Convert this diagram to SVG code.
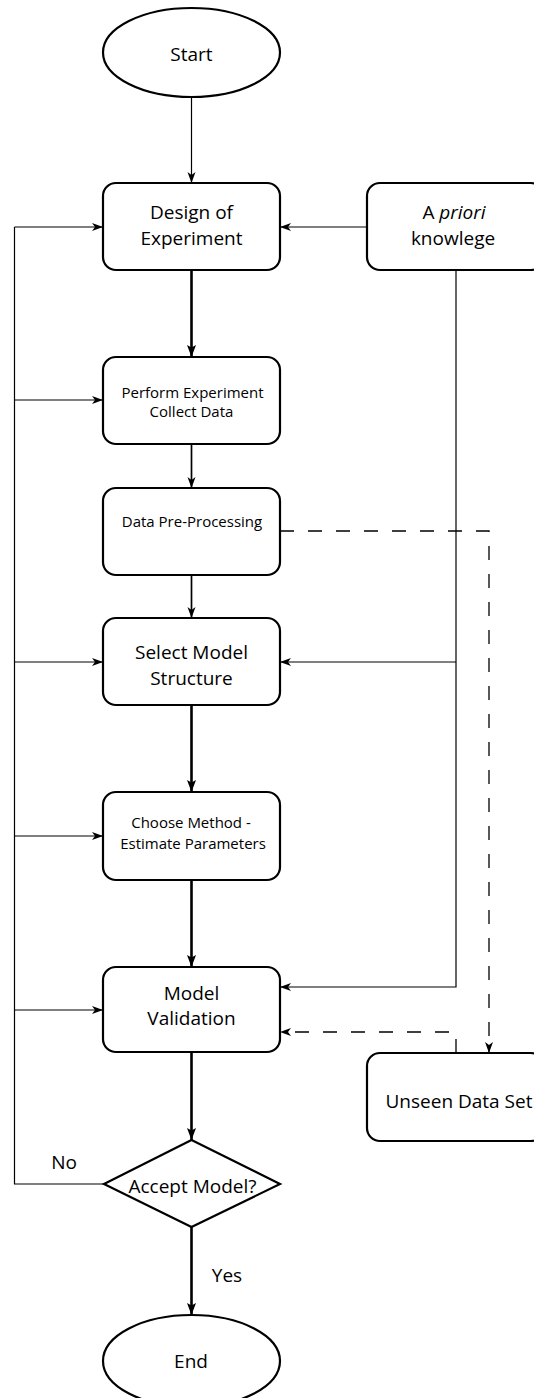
<svg xmlns="http://www.w3.org/2000/svg" width="534" height="1398" viewBox="0 0 534 1398">
<style>
  .shape { fill: #fff; stroke: #000; stroke-width: 2.2; }
  .big { font-family: "Open Sans", "Noto Sans", sans-serif; font-size: 19px; fill: #000; text-anchor: middle; }
  .small { font-family: "Open Sans", "Noto Sans", sans-serif; font-size: 15px; fill: #000; text-anchor: middle; }
  .thin { fill: none; stroke: #000; stroke-width: 1.2; }
  .mid { fill: none; stroke: #000; stroke-width: 1.7; }
  .bold { fill: none; stroke: #000; stroke-width: 2.6; }
  .dash { fill: none; stroke: #000; stroke-width: 1.3; stroke-dasharray: 14 14; }
</style>
<defs>
  <marker id="ah" markerUnits="userSpaceOnUse" markerWidth="12" markerHeight="10" refX="11" refY="5" orient="auto">
    <path d="M0,1 L11,5 L0,9 L3,5 Z" fill="#000"/>
  </marker>
  <marker id="ahb" markerUnits="userSpaceOnUse" markerWidth="13" markerHeight="10" refX="12" refY="5" orient="auto">
    <path d="M0,0.5 L12,5 L0,9.5 L2.5,5 Z" fill="#000"/>
  </marker>
</defs>
<rect width="534" height="1398" fill="#fff"/>

<g id="connectors">
  <!-- main flow -->
  <path class="thin" d="M191.5,97 L191.5,183" marker-end="url(#ah)"/>
  <path class="bold" d="M191.5,270 L191.5,357" marker-end="url(#ahb)"/>
  <path class="mid" d="M191.5,444 L191.5,488" marker-end="url(#ah)"/>
  <path class="mid" d="M191.5,575 L191.5,618" marker-end="url(#ah)"/>
  <path class="bold" d="M191.5,705 L191.5,792" marker-end="url(#ahb)"/>
  <path class="bold" d="M191.5,880 L191.5,967" marker-end="url(#ahb)"/>
  <path class="bold" d="M191.5,1052 L191.5,1140" marker-end="url(#ahb)"/>
  <path class="bold" d="M191.5,1227 L191.5,1315" marker-end="url(#ahb)"/>
  <!-- feedback loop (No) -->
  <path class="thin" d="M104,1184 L14.5,1184 L14.5,227"/>
  <path class="thin" d="M14.5,227 L103,227" marker-end="url(#ah)"/>
  <path class="thin" d="M14.5,400 L103,400" marker-end="url(#ah)"/>
  <path class="thin" d="M14.5,662 L103,662" marker-end="url(#ah)"/>
  <path class="thin" d="M14.5,836 L103,836" marker-end="url(#ah)"/>
  <path class="thin" d="M14.5,1010 L103,1010" marker-end="url(#ah)"/>
  <!-- a priori knowledge -->
  <path class="thin" d="M367,227 L280,227" marker-end="url(#ah)"/>
  <path class="thin" d="M456,270 L456,987 L280,987" marker-end="url(#ah)"/>
  <path class="thin" d="M456,662 L280,662" marker-end="url(#ah)"/>
  <!-- dashed data paths -->
  <path class="dash" d="M280,531 L489,531 L489,1053" marker-end="url(#ah)"/>
  <path class="dash" stroke-dasharray="14 15" d="M456,1053 L456,1032 L280,1032" marker-end="url(#ah)"/>
</g>

<g id="start">
  <ellipse class="shape" cx="191.5" cy="52.5" rx="88.5" ry="44.5"/>
  <text class="big" x="191.5" y="61">Start</text>
</g>
<g id="design">
  <rect class="shape" x="103" y="183" width="177" height="87" rx="13"/>
  <text class="big" x="191.5" y="219">Design of</text>
  <text class="big" x="191.5" y="245">Experiment</text>
</g>
<g id="apriori">
  <rect class="shape" x="367" y="183" width="177" height="87" rx="13"/>
  <text class="big" x="454" y="219">A <tspan font-style="italic">priori</tspan></text>
  <text class="big" x="453" y="245">knowlege</text>
</g>
<g id="perform">
  <rect class="shape" x="103" y="357" width="177" height="87" rx="13"/>
  <text class="small" x="192.5" y="398">Perform Experiment</text>
  <text class="small" x="191.5" y="417">Collect Data</text>
</g>
<g id="preprocess">
  <rect class="shape" x="103" y="488" width="177" height="87" rx="13"/>
  <text class="small" x="192" y="527">Data Pre-Processing</text>
</g>
<g id="select">
  <rect class="shape" x="103" y="618" width="177" height="87" rx="13"/>
  <text class="big" x="191.5" y="659">Select Model</text>
  <text class="big" x="191.5" y="685">Structure</text>
</g>
<g id="choose">
  <rect class="shape" x="103" y="792" width="177" height="88" rx="13"/>
  <text class="small" x="191" y="828">Choose Method -</text>
  <text class="small" x="193" y="849">Estimate Parameters</text>
</g>
<g id="validation">
  <rect class="shape" x="103" y="967" width="177" height="85" rx="13"/>
  <text class="big" x="191.5" y="1000">Model</text>
  <text class="big" x="191.5" y="1025">Validation</text>
</g>
<g id="unseen">
  <rect class="shape" x="367" y="1053" width="177" height="88" rx="13"/>
  <text class="big" x="459" y="1108">Unseen Data Set</text>
</g>
<g id="accept">
  <polygon class="shape" points="191.5,1140 280,1184 191.5,1227 104,1184"/>
  <text class="big" x="192.5" y="1193" font-size="20">Accept Model?</text>
</g>
<g id="labels">
  <text class="big" x="64" y="1169">No</text>
  <text class="big" x="227" y="1282">Yes</text>
</g>
<g id="end">
  <ellipse class="shape" cx="191.5" cy="1361" rx="88.5" ry="46"/>
  <text class="big" x="191" y="1368">End</text>
</g>
</svg>
